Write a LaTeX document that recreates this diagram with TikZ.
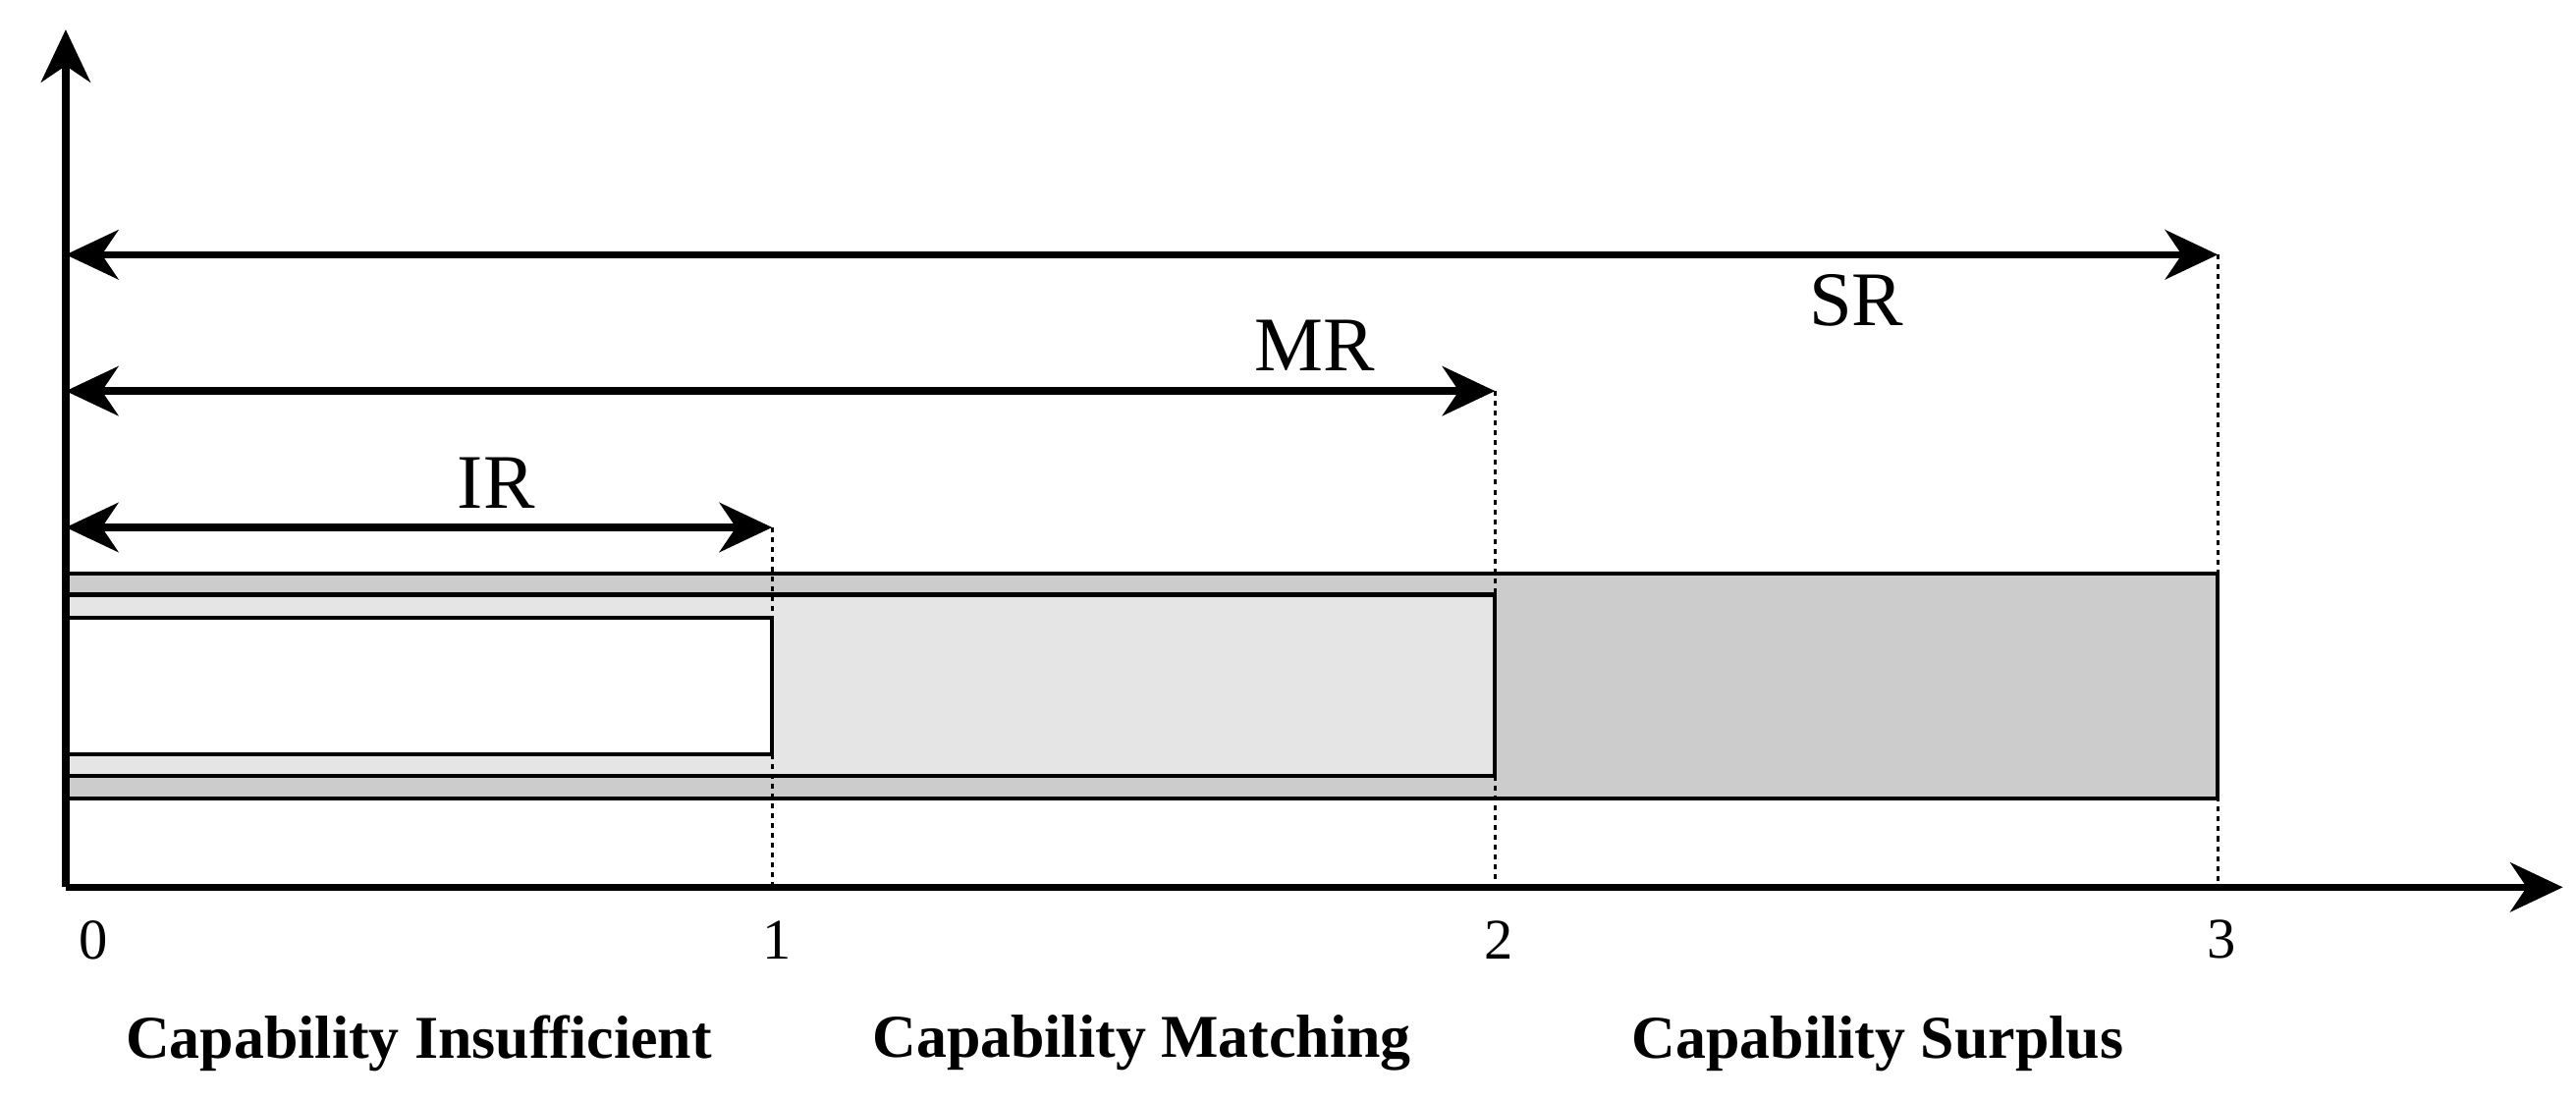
\documentclass[tikz,border=0pt]{standalone}
\usepackage{fontspec}
\setmainfont{Liberation Serif}
\usetikzlibrary{arrows.meta}
\begin{document}
\begin{tikzpicture}[x=1pt,y=-1pt,
  axisline/.style={line width=4.5pt,-{Stealth[length=32pt,width=30pt,inset=10pt]}},
  rangearrow/.style={line width=4.5pt,{Stealth[length=32pt,width=30pt,inset=10pt]}-{Stealth[length=32pt,width=30pt,inset=10pt]}},
  guide/.style={dashed,line width=1.6pt},
  lbl/.style={font=\fontsize{47}{50}\selectfont},
  ticklbl/.style={font=\fontsize{35}{37}\selectfont},
  caplbl/.style={font=\bfseries\fontsize{37}{40}\selectfont}]
\useasboundingbox (0,0) rectangle (1568,670);
\filldraw[fill=black!20,line width=2.5pt] (40,349) rectangle (1350,486);
\filldraw[fill=black!10,line width=2.5pt] (40,362) rectangle (910,472);
\filldraw[fill=white,line width=2.5pt] (40,376) rectangle (470,459);
\coordinate (o) at (40,540);
\coordinate (xe) at (1560,540);
\coordinate (ye) at (40,18);
\coordinate (a1) at (470,321);
\coordinate (a2) at (910,238);
\coordinate (a3) at (1350,155);
\coordinate (s1) at (40,321);
\coordinate (s2) at (40,238);
\coordinate (s3) at (40,155);
\draw[guide] (a1) -- (470,540);
\draw[guide] (a2) -- (910,540);
\draw[guide] (a3) -- (1350,540);
\draw[axisline] (o) -- (xe);
\draw[axisline] (o) -- (ye);
\draw[rangearrow] (s1) -- (a1);
\draw[rangearrow] (s2) -- (a2);
\draw[rangearrow] (s3) -- (a3);
\node[lbl] (ir) at (302,294) {IR};
\node[lbl] (mr) at (800,210) {MR};
\node[lbl] (sr) at (1130,183) {SR};
\node[ticklbl] (t0) at (57,572) {0};
\node[ticklbl] (t1) at (473,572) {1};
\node[ticklbl] (t2) at (912,572) {2};
\node[ticklbl] (t3) at (1352,572) {3};
\node[caplbl] (c1) at (255,635) {Capability Insufficient};
\node[caplbl] (c2) at (695,635) {Capability Matching};
\node[caplbl] (c3) at (1143,635) {Capability Surplus};
\end{tikzpicture}
\end{document}
